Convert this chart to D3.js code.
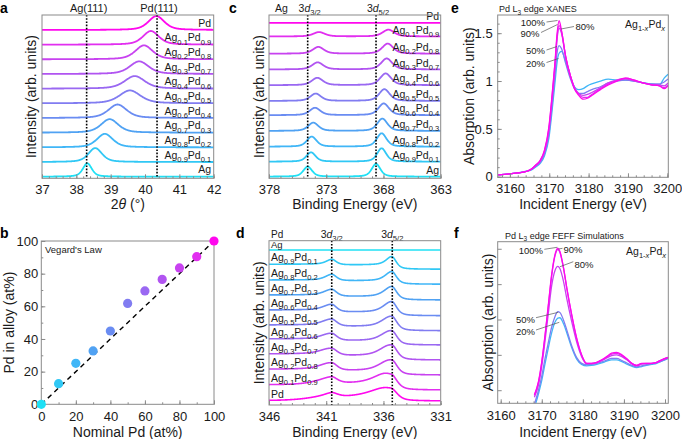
<!DOCTYPE html>
<html lang="en">
<head>
<meta charset="UTF-8">
<title>AgPd alloys</title>
<script src="https://d3js.org/d3.v7.min.js"></script>
<style>
  body { margin: 0; background: #fff; }
  svg { font-family: "Liberation Sans", Arial, Helvetica, sans-serif; }
</style>
</head>
<body>
<svg id="fig" width="682" height="439"></svg>
<script>
// ---------- data ----------
var pdFraction = [0, 0.1, 0.2, 0.3, 0.4, 0.5, 0.6, 0.7, 0.8, 0.9, 1.0];
var seriesColors = ["#1fe0f5", "#30c8f5", "#40b6f7", "#50a2f3", "#6a8cf2", "#817cf1",
                    "#9a68f2", "#b154f1", "#c842f0", "#e22ef0", "#ff08ee"];

// a: XRD (111) reflection, one peak per sample
var xrdCenter = [38.32, 38.55, 38.83, 38.97, 39.20, 39.56, 39.70, 39.83, 39.97, 40.17, 40.33];
var xrdHeight = [0.91, 0.95, 0.92, 0.92, 0.92, 0.88, 0.86, 0.86, 0.95, 0.93, 0.95];
var xrdWidth  = [0.31, 0.47, 0.55, 0.60, 0.63, 0.73, 0.70, 0.65, 0.60, 0.55, 0.55];
var xrdRefs = [38.30, 40.35];

// b: Vegard's law
var nominalPd = [0, 10, 20, 30, 40, 50, 60, 70, 80, 90, 100];
var alloyPd   = [0, 12.6, 25.1, 32.7, 44.9, 61.8, 69.4, 76.5, 83.5, 90.4, 100];

// c: Ag 3d XPS
var ag3dOffset = [0, 1, 2, 3.05, 4.1, 5.05, 6.1, 7.15, 8.2, 9.35, 10.25];
var ag3d32Pos  = [374.62, 374.33, 374.27, 374.13, 373.98, 373.92, 373.78, 373.75, 373.69, 373.63, 373.6];
var ag3d32Amp  = [0.67, 0.62, 0.67, 0.55, 0.49, 0.49, 0.49, 0.47, 0.45, 0.29, 0];
var ag3d52Pos  = [368.65, 368.16, 368.16, 368.10, 367.98, 367.92, 367.81, 367.72, 367.63, 367.57, 367.55];
var ag3d52Amp  = [0.85, 0.89, 0.89, 0.82, 0.78, 0.78, 0.78, 0.73, 0.67, 0.45, 0];
var ag3dWidth  = [0.90, 0.95, 1.0, 1.05, 1.1, 1.1, 1.15, 1.15, 1.15, 1.2, 1.2];
var ag3dRefs = [374.62, 368.65];

// d: Pd 3d XPS (levels in row units)
var pd3dLeft  = [10.33, 9.38, 8.33, 7.33, 6.33, 5.33, 4.40, 3.40, 2.38, 1.33, 0.27];
var pd3d32Top = [10.33, 9.71, 8.71, 7.71, 6.71, 5.73, 4.78, 3.78, 2.82, 1.89, 0.83];
var pd3dMid   = [10.33, 9.33, 8.27, 7.22, 6.18, 5.22, 4.27, 3.27, 2.27, 1.40, 0.47];
var pd3d52Top = [10.33, 9.89, 8.89, 7.89, 6.89, 5.91, 4.95, 4.00, 3.00, 2.05, 1.13];
var pd3dRight = [10.33, 9.05, 8.05, 7.00, 5.95, 4.95, 4.00, 3.00, 2.00, 1.00, 0.27];
var pd3d32Pos = [340.5, 340.5, 340.5, 340.5, 340.5, 340.5, 340.5, 340.5, 340.5, 340.55, 340.6];
var pd3d52Pos = [335.25, 335.25, 335.25, 335.25, 335.25, 335.25, 335.25, 335.25, 335.25, 335.3, 335.35];
var pd3dWidth = [1.0, 0.9, 0.95, 1.0, 1.0, 1.05, 1.05, 1.1, 1.1, 1.2, 1.3];
var pd3dAsym  = [0, 0.3, 0.4, 0.5, 0.6, 0.7, 0.8, 0.9, 1.0, 1.5, 2.0];
var pd3dRefs = [340.52, 335.23];

// e: Pd L3 edge XANES
var xanesLabels = ["100%", "90%", "80%", "50%", "20%"];
var xanesColorIdx = [10, 9, 8, 5, 2];
var xanesEnergy = [3157, 3162, 3164.5, 3165.5, 3166.5, 3167.7, 3168.8, 3169.9, 3170.9, 3171.5,
                   3172, 3172.5, 3173.1, 3174.2, 3175.4, 3176.4, 3177.5, 3178.6, 3179.7, 3180.8,
                   3183, 3185, 3187.2, 3189.4, 3191.6, 3193.8, 3196, 3198, 3199.2, 3200.2];
var xanes100 = [0.02,0.04,0.06,0.08,0.12,0.17,0.28,0.52,0.94,1.22,1.50,1.63,1.53,1.25,1.05,0.92,0.85,0.81,0.82,0.85,0.91,0.96,1.00,1.03,1.01,0.98,0.96,0.95,0.92,0.95];
var xanes90  = [0.02,0.04,0.06,0.08,0.12,0.17,0.27,0.50,0.92,1.20,1.47,1.58,1.52,1.25,1.05,0.93,0.86,0.83,0.83,0.86,0.92,0.97,1.01,1.03,1.01,0.98,0.96,0.95,0.93,0.96];
var xanes80  = [0.02,0.04,0.06,0.08,0.11,0.16,0.26,0.48,0.88,1.17,1.44,1.55,1.50,1.24,1.05,0.93,0.87,0.85,0.86,0.88,0.93,0.98,1.01,1.02,1.00,0.98,0.96,0.96,0.95,0.98];
var xanes50  = [0.02,0.04,0.06,0.08,0.11,0.15,0.24,0.44,0.82,1.08,1.30,1.37,1.34,1.18,1.02,0.92,0.87,0.87,0.89,0.91,0.94,0.98,1.00,1.01,1.00,0.98,0.97,0.97,0.99,1.02];
var xanes20  = [0.02,0.04,0.06,0.07,0.10,0.14,0.22,0.40,0.76,1.00,1.20,1.29,1.31,1.20,1.04,0.94,0.91,0.92,0.95,0.97,1.00,1.02,1.01,1.01,1.00,0.98,0.97,0.96,1.03,1.07];

// f: FEFF simulations
var feffEnergy = [3168.2, 3169.2, 3170, 3170.8, 3171.6, 3172.4, 3173.2, 3173.9, 3174.4, 3175.3,
                  3176.1, 3177.3, 3178.5, 3179.7, 3180.9, 3182.1, 3183.4, 3184.6, 3185.8, 3187,
                  3188.2, 3189.5, 3190.7, 3191.9, 3193.1, 3194.3, 3195.5, 3196.8, 3198, 3199.2, 3200.8];
var feff100 = [-0.13,0.25,0.81,1.57,2.42,3.27,3.83,4.02,3.93,3.46,2.89,2.13,1.47,1.00,0.76,0.76,0.79,0.86,0.95,1.05,1.07,1.00,0.89,0.76,0.70,0.76,0.76,0.76,0.79,0.86,0.93];
var feff90  = [-0.15,0.22,0.78,1.53,2.38,3.22,3.79,3.98,3.90,3.44,2.87,2.11,1.45,0.99,0.76,0.76,0.79,0.85,0.93,1.02,1.04,0.98,0.88,0.76,0.70,0.75,0.76,0.76,0.79,0.86,0.93];
var feff80  = [-0.20,0.15,0.68,1.40,2.18,2.95,3.38,3.50,3.44,3.07,2.58,1.93,1.36,0.95,0.75,0.75,0.78,0.84,0.91,0.98,1.00,0.95,0.86,0.75,0.69,0.74,0.75,0.76,0.79,0.85,0.93];
var feff50  = [-0.40,0.00,0.40,0.90,1.35,1.78,2.08,2.22,2.20,1.98,1.70,1.25,0.92,0.76,0.72,0.73,0.76,0.80,0.85,0.90,0.90,0.84,0.77,0.70,0.66,0.69,0.72,0.75,0.78,0.83,0.91];
var feff20  = [-0.50,-0.10,0.28,0.75,1.20,1.62,1.92,2.04,2.05,1.88,1.62,1.20,0.88,0.73,0.69,0.70,0.73,0.77,0.82,0.86,0.86,0.81,0.74,0.68,0.64,0.67,0.70,0.73,0.76,0.82,0.90];

// ---------- helpers ----------
var svg = d3.select("#fig");
var FRAME = "#8a8a8a", INK = "#1a1a1a";

function frame(g, b) {
  g.append("rect").attr("x", b.x0).attr("y", b.y0)
    .attr("width", b.x1 - b.x0).attr("height", b.y1 - b.y0)
    .attr("fill", "none").attr("stroke", FRAME).attr("stroke-width", 1);
}

function styleAxis(ax) {
  ax.select(".domain").remove();
  ax.selectAll(".tick line").attr("stroke", FRAME);
  ax.selectAll("text").attr("fill", INK).attr("font-size", 13)
    .attr("font-family", "Liberation Sans, Arial, sans-serif");
  return ax;
}

function xAxis(g, x, b, major, minor, fmt, pad) {
  if (minor) {
    styleAxis(g.append("g").attr("transform", "translate(0," + b.y1 + ")")
      .call(d3.axisBottom(x).tickValues(minor).tickSize(-2)))
      .selectAll("text").remove();
  }
  styleAxis(g.append("g").attr("transform", "translate(0," + b.y1 + ")")
    .call(d3.axisBottom(x).tickValues(major).tickSize(-4).tickPadding(pad).tickFormat(fmt)));
}

function yAxis(g, y, b, major, minor, fmt, pad) {
  if (minor) {
    styleAxis(g.append("g").attr("transform", "translate(" + b.x0 + ",0)")
      .call(d3.axisLeft(y).tickValues(minor).tickSize(-2)))
      .selectAll("text").remove();
  }
  var ax = styleAxis(g.append("g").attr("transform", "translate(" + b.x0 + ",0)")
    .call(d3.axisLeft(y).tickValues(major).tickSize(-4).tickPadding(pad).tickFormat(fmt || "")));
  if (!fmt) ax.selectAll("text").remove();
}

// text made of parts: {t, sub, it}
function rich(g, x, y, parts, fs, anchor) {
  var t = g.append("text").attr("x", x).attr("y", y).attr("font-size", fs)
    .attr("text-anchor", anchor || "start").attr("fill", INK);
  var shifted = 0;
  parts.forEach(function(p) {
    var sp = t.append("tspan").text(p.t);
    var want = p.sub ? fs * 0.3 : 0;
    if (want !== shifted) { sp.attr("dy", want - shifted); shifted = want; }
    if (p.sub) sp.attr("font-size", fs * 0.72);
    if (p.it) sp.attr("font-style", "italic");
  });
  return t;
}

function compParts(f) {
  if (f === 0) return [{t: "Ag"}];
  if (f === 1) return [{t: "Pd"}];
  return [{t: "Ag"}, {t: (1 - f).toFixed(1), sub: true}, {t: "Pd"}, {t: f.toFixed(1), sub: true}];
}

function yTitle(g, x, yc, text, fs) {
  g.append("text").attr("transform", "translate(" + x + "," + yc + ") rotate(-90)")
    .attr("text-anchor", "middle").attr("dy", "0.35em").attr("font-size", fs || 14)
    .attr("fill", INK).text(text);
}

function clip(id, b) {
  svg.append("clipPath").attr("id", id).append("rect")
    .attr("x", b.x0).attr("y", b.y0).attr("width", b.x1 - b.x0).attr("height", b.y1 - b.y0);
  return "url(#" + id + ")";
}

function refLines(g, x, b, vals) {
  vals.forEach(function(v) {
    g.append("line").attr("x1", x(v)).attr("x2", x(v)).attr("y1", b.y0).attr("y2", b.y1)
      .attr("stroke", "#000").attr("stroke-width", 1.6).attr("stroke-dasharray", "1.6,1.6");
  });
}

// pseudo-Voigt line shape, asymmetric width on the x > c side
function lineShape(t, c, fwhm, asym, eta) {
  var w = (t > c ? fwhm * (1 + (asym || 0)) : fwhm) / 2;
  var u = (t - c) / w;
  return eta / (1 + u * u) + (1 - eta) * Math.exp(-Math.LN2 * u * u);
}
function step(t, c, s) { return 1 / (1 + Math.exp(-(t - c) / s)); }

function panelLetter(x, y, s) {
  svg.append("text").attr("x", x).attr("y", y).attr("font-size", 14)
    .attr("font-weight", "bold").attr("fill", "#000").text(s);
}

// ---------- panel a ----------
var bA = {x0: 42, x1: 213.7, y0: 15, y1: 178.3};
var gA = svg.append("g");
var xA = d3.scaleLinear().domain([37, 42]).range([bA.x0, bA.x1]);
var yA = d3.scaleLinear().domain([-0.11, 11.02]).range([bA.y1, bA.y0]);
var gridA = d3.range(37, 42.0001, 0.01);
var cA = clip("clipA", bA);
pdFraction.forEach(function(f, i) {
  var pts = gridA.map(function(t) { return [t, i + xrdHeight[i] * lineShape(t, xrdCenter[i], xrdWidth[i], 0, 0.5)]; });
  gA.append("path").attr("clip-path", cA)
    .attr("d", d3.line().x(function(d) { return xA(d[0]); }).y(function(d) { return yA(d[1]); })(pts))
    .attr("fill", "none").attr("stroke", seriesColors[i]).attr("stroke-width", 1.8);
  rich(gA, bA.x1 - 2.5, yA(i) - 3.2, compParts(f), 10.5, "end");
});
refLines(gA, xA, bA, xrdRefs);
rich(gA, xA(xrdRefs[0]) + 2, 11.5, [{t: "Ag(111)"}], 11, "middle");
rich(gA, xA(xrdRefs[1]) + 2, 11.5, [{t: "Pd(111)"}], 11, "middle");
frame(gA, bA);
xAxis(gA, xA, bA, d3.range(37, 42.01, 1), d3.range(37, 42.01, 0.2), d3.format("d"), 6);
rich(gA, (bA.x0 + bA.x1) / 2, 209, [{t: "2"}, {t: "\u03b8", it: true}, {t: " (\u00b0)"}], 14, "middle");
yTitle(gA, 31.5, (bA.y0 + bA.y1) / 2, "Intensity (arb. units)");

// ---------- panel b ----------
var bB = {x0: 41.3, x1: 214, y0: 241, y1: 404.3};
var gB = svg.append("g");
var xB = d3.scaleLinear().domain([0, 100]).range([bB.x0, bB.x1]);
var yB = d3.scaleLinear().domain([0, 100]).range([bB.y1, bB.y0]);
frame(gB, bB);
xAxis(gB, xB, bB, d3.range(0, 101, 20), d3.range(0, 101, 10), d3.format("d"), 7);
yAxis(gB, yB, bB, d3.range(0, 101, 20), d3.range(0, 101, 10), d3.format("d"), 3);
gB.append("line").attr("x1", xB(0)).attr("y1", yB(0)).attr("x2", xB(100)).attr("y2", yB(100))
  .attr("stroke", "#000").attr("stroke-width", 1.4).attr("stroke-dasharray", "5,4");
gB.selectAll("circle.pt").data(nominalPd).enter().append("circle")
  .attr("cx", function(d) { return xB(d); })
  .attr("cy", function(d, i) { return yB(alloyPd[i]); })
  .attr("r", 4.6)
  .attr("fill", function(d, i) { return seriesColors[i]; });
rich(gB, 45, 253, [{t: "Vegard's Law"}], 9.5, "start");
rich(gB, (bB.x0 + bB.x1) / 2, 436.5, [{t: "Nominal Pd (at%)"}], 14, "middle");
yTitle(gB, 9.5, (bB.y0 + bB.y1) / 2, "Pd in alloy (at%)");

// ---------- panel c ----------
var bC = {x0: 269, x1: 440.7, y0: 15, y1: 178.3};
var gC = svg.append("g");
var xC = d3.scaleLinear().domain([378, 363]).range([bC.x0, bC.x1]);
var yC = d3.scaleLinear().domain([-0.11, 10.78]).range([bC.y1, bC.y0]);
var gridC = d3.range(363, 378.0001, 0.02);
var cC = clip("clipC", bC);
pdFraction.forEach(function(f, i) {
  var pts = gridC.map(function(t) {
    return [t, ag3dOffset[i]
      + ag3d32Amp[i] * lineShape(t, ag3d32Pos[i], ag3dWidth[i], 0, 0.5)
      + ag3d52Amp[i] * lineShape(t, ag3d52Pos[i], ag3dWidth[i], 0, 0.5)];
  });
  gC.append("path").attr("clip-path", cC)
    .attr("d", d3.line().x(function(d) { return xC(d[0]); }).y(function(d) { return yC(d[1]); })(pts))
    .attr("fill", "none").attr("stroke", seriesColors[i]).attr("stroke-width", 1.8);
  rich(gC, bC.x1 - 1.5, yC(ag3dOffset[i]) - 2.8, compParts(f), 10.5, "end");
});
refLines(gC, xC, bC, ag3dRefs);
rich(gC, 275, 11.5, [{t: "Ag"}], 10.5, "start");
rich(gC, xC(ag3dRefs[0]) + 2, 11.5, [{t: "3"}, {t: "d", it: true}, {t: "3/2", sub: true}], 10.5, "middle");
rich(gC, xC(ag3dRefs[1]) + 2, 11.5, [{t: "3"}, {t: "d", it: true}, {t: "5/2", sub: true}], 10.5, "middle");
frame(gC, bC);
xAxis(gC, xC, bC, [378, 373, 368, 363], d3.range(363, 378.01, 1), d3.format("d"), 6);
rich(gC, (bC.x0 + bC.x1) / 2, 209, [{t: "Binding Energy (eV)"}], 14, "middle");
yTitle(gC, 259.5, (bC.y0 + bC.y1) / 2, "Intensity (arb. units)");

// ---------- panel d ----------
var bD = {x0: 269, x1: 440.7, y0: 240.7, y1: 405};
var gD = svg.append("g");
var xD = d3.scaleLinear().domain([346, 331]).range([bD.x0, bD.x1]);
var yD = d3.scaleLinear().domain([0, 10.95]).range([bD.y1, bD.y0]);
var gridD = d3.range(331, 346.0001, 0.02);
var cD = clip("clipD", bD);
pdFraction.forEach(function(f, i) {
  var c1 = pd3d32Pos[i], c2 = pd3d52Pos[i], w = pd3dWidth[i], a = pd3dAsym[i];
  function bg(t) {
    return pd3dRight[i] + (pd3dMid[i] - pd3dRight[i]) * step(t, c2 + 0.35, 0.3)
                        + (pd3dLeft[i] - pd3dMid[i]) * step(t, c1 + 0.35, 0.3);
  }
  var h2 = pd3d52Top[i] - bg(c2);
  var h1 = pd3d32Top[i] - bg(c1) - h2 * lineShape(c1, c2, w, a, 0.6);
  h2 = pd3d52Top[i] - bg(c2) - h1 * lineShape(c2, c1, w, a, 0.6);
  var pts = gridD.map(function(t) {
    return [t, bg(t) + h1 * lineShape(t, c1, w, a, 0.6) + h2 * lineShape(t, c2, w, a, 0.6)];
  });
  gD.append("path").attr("clip-path", cD)
    .attr("d", d3.line().x(function(d) { return xD(d[0]); }).y(function(d) { return yD(d[1]); })(pts))
    .attr("fill", "none").attr("stroke", seriesColors[i]).attr("stroke-width", 1.6);
  if (i === 0) rich(gD, bD.x0 + 2, 248, compParts(f), 9.5, "start");
  else rich(gD, bD.x0 + 2, yD(pd3dLeft[i]) - 3, compParts(f), 10.5, "start");
});
refLines(gD, xD, bD, pd3dRefs);
rich(gD, 271, 237.5, [{t: "Pd"}], 10, "start");
rich(gD, xD(pd3dRefs[0]), 237.5, [{t: "3"}, {t: "d", it: true}, {t: "3/2", sub: true}], 10.5, "middle");
rich(gD, xD(pd3dRefs[1]), 237.5, [{t: "3"}, {t: "d", it: true}, {t: "5/2", sub: true}], 10.5, "middle");
frame(gD, bD);
xAxis(gD, xD, bD, [346, 341, 336, 331], d3.range(331, 346.01, 1), d3.format("d"), 7);
rich(gD, (bD.x0 + bD.x1) / 2, 436.5, [{t: "Binding Energy (eV)"}], 14, "middle");
yTitle(gD, 259.5, (bD.y0 + bD.y1) / 2, "Intensity (arb. units)");

// ---------- panel e ----------
var bE = {x0: 497.7, x1: 668.3, y0: 15, y1: 177.3};
var gE = svg.append("g");
var xE = d3.scaleLinear().domain([3156.9, 3200.25]).range([bE.x0, bE.x1]);
var yE = d3.scaleLinear().domain([-0.006, 1.69]).range([bE.y1, bE.y0]);
var cE = clip("clipE", bE);
var xanesSeries = [xanes100, xanes90, xanes80, xanes50, xanes20];
var lineE = d3.line().curve(d3.curveMonotoneX)
  .x(function(d) { return xE(d[0]); }).y(function(d) { return yE(d[1]); });
xanesSeries.slice().reverse().forEach(function(s, k) {
  var j = xanesSeries.length - 1 - k;
  gE.append("path").attr("clip-path", cE)
    .attr("d", lineE(xanesEnergy.map(function(e, n) { return [e, s[n]]; })))
    .attr("fill", "none").attr("stroke", seriesColors[xanesColorIdx[j]]).attr("stroke-width", 1.3);
});
frame(gE, bE);
xAxis(gE, xE, bE, d3.range(3160, 3201, 10), d3.range(3158, 3201, 2), d3.format("d"), 6);
yAxis(gE, yE, bE, [0, 0.5, 1, 1.5], d3.range(0, 1.69, 0.1), function(d) { return String(d); }, 5);
// annotations
var eNotes = [
  {tx: 545, ty: 25.6, anchor: "end", l: [546.5, 22, 557.5, 20.5]},
  {tx: 539.5, ty: 36.6, anchor: "end", l: [541, 32.5, 557.5, 24.5]},
  {tx: 575.5, ty: 30, anchor: "start", l: [574, 26.5, 561, 29]},
  {tx: 545, ty: 54, anchor: "end", l: [546.5, 50, 557, 46.5]},
  {tx: 545, ty: 66.7, anchor: "end", l: [546.5, 62.5, 558.5, 58.5]}
];
eNotes.forEach(function(n, j) {
  gE.append("line").attr("x1", n.l[0]).attr("y1", n.l[1]).attr("x2", n.l[2]).attr("y2", n.l[3])
    .attr("stroke", "#555").attr("stroke-width", 0.7);
  rich(gE, n.tx, n.ty, [{t: xanesLabels[j]}], 9.5, n.anchor);
});
rich(gE, 499, 12, [{t: "Pd L"}, {t: "3", sub: true}, {t: " edge XANES"}], 9, "start");
rich(gE, 665, 27.5, [{t: "Ag"}, {t: "1-", sub: true}, {t: "x", sub: true, it: true}, {t: "Pd"}, {t: "x", sub: true, it: true}], 10.5, "end");
rich(gE, (bE.x0 + bE.x1) / 2, 209, [{t: "Incident Energy (eV)"}], 14, "middle");
yTitle(gE, 469, (bE.y0 + bE.y1) / 2, "Absorption (arb. units)");

// ---------- panel f ----------
var bF = {x0: 497.7, x1: 668.3, y0: 241.7, y1: 403.3};
var gF = svg.append("g");
var xF = d3.scaleLinear().domain([3159.27, 3200.8]).range([bF.x0, bF.x1]);
var yF = d3.scaleLinear().domain([-0.37, 4.2]).range([bF.y1, bF.y0]);
var cF = clip("clipF", bF);
var feffSeries = [feff100, feff90, feff80, feff50, feff20];
var lineF = d3.line().curve(d3.curveMonotoneX)
  .x(function(d) { return xF(d[0]); }).y(function(d) { return yF(d[1]); });
feffSeries.slice().reverse().forEach(function(s, k) {
  var j = feffSeries.length - 1 - k;
  gF.append("path").attr("clip-path", cF)
    .attr("d", lineF(feffEnergy.map(function(e, n) { return [e, s[n]]; })))
    .attr("fill", "none").attr("stroke", seriesColors[xanesColorIdx[j]]).attr("stroke-width", 1.3);
});
frame(gF, bF);
xAxis(gF, xF, bF, d3.range(3160, 3201, 10), d3.range(3160, 3201, 2), d3.format("d"), 7);
yAxis(gF, yF, bF, [0, 1, 2, 3, 4], null, null, 5);
var fNotes = [
  {tx: 543, ty: 254.4, anchor: "end", l: [544.3, 249.3, 557.3, 247.3]},
  {tx: 563.5, ty: 252.7, anchor: "start", l: [562.5, 248.3, 558.5, 249]},
  {tx: 574.5, ty: 267.7, anchor: "start", l: [573.3, 261.7, 560, 266.7]},
  {tx: 535, ty: 323.4, anchor: "end", l: [536, 317.7, 558.3, 312.3]},
  {tx: 535, ty: 335, anchor: "end", l: [536, 330, 559.3, 322.3]}
];
fNotes.forEach(function(n, j) {
  gF.append("line").attr("x1", n.l[0]).attr("y1", n.l[1]).attr("x2", n.l[2]).attr("y2", n.l[3])
    .attr("stroke", "#555").attr("stroke-width", 0.7);
  rich(gF, n.tx, n.ty, [{t: xanesLabels[j]}], 9.5, n.anchor);
});
rich(gF, 505, 238.5, [{t: "Pd L"}, {t: "3", sub: true}, {t: " edge FEFF Simulations"}], 9, "start");
rich(gF, 666, 255, [{t: "Ag"}, {t: "1-", sub: true}, {t: "x", sub: true, it: true}, {t: "Pd"}, {t: "x", sub: true, it: true}], 10.5, "end");
rich(gF, (bF.x0 + bF.x1) / 2, 436.5, [{t: "Incident Energy (eV)"}], 14, "middle");
yTitle(gF, 488.5, (bF.y0 + bF.y1) / 2, "Absorption (arb. units)");

// panel letters
panelLetter(0, 12.8, "a");
panelLetter(0, 238, "b");
panelLetter(229, 12.8, "c");
panelLetter(236, 238, "d");
panelLetter(451, 12.8, "e");
panelLetter(454, 238, "f");
</script>
</body>
</html>
